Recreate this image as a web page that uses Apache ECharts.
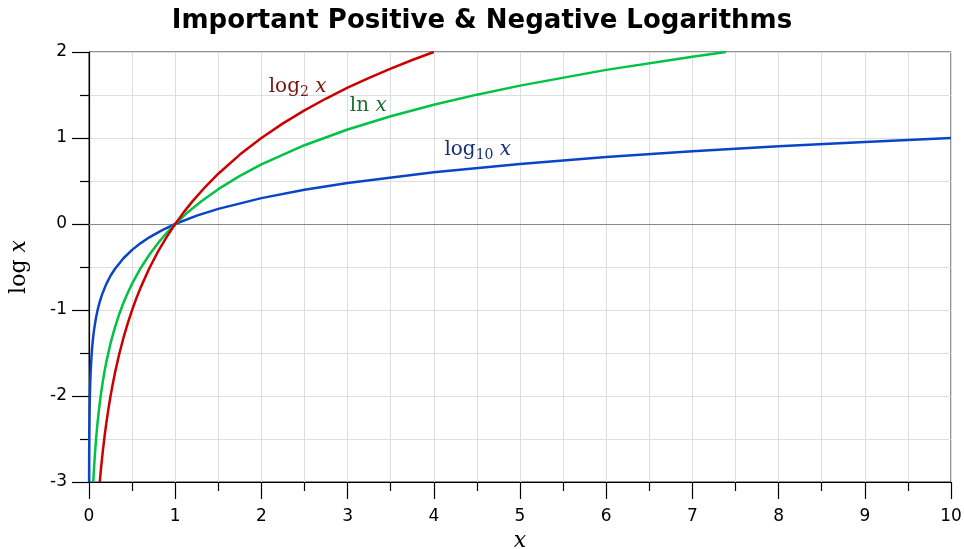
<!DOCTYPE html>
<html><head><meta charset="utf-8">
<script src="https://cdn.jsdelivr.net/npm/echarts@6/dist/echarts.min.js"></script>
<style>html,body{margin:0;padding:0;background:#fff}#c{width:964px;height:549px}</style>
</head><body><div id="c"></div>
<script>
// Data
const log2X = [0.125,0.14,0.16,0.18,0.2,0.225,0.25,0.275,0.3,0.35,0.4,0.45,0.5,0.55,0.6,0.7,0.8,0.9,1,1.1,1.2,1.35,1.5,1.75,2,2.25,2.5,2.75,3,3.25,3.5,3.75,4];
const log2Y = [-3,-2.837,-2.644,-2.474,-2.322,-2.152,-2,-1.862,-1.737,-1.515,-1.322,-1.152,-1,-0.862,-0.737,-0.515,-0.322,-0.152,0,0.138,0.263,0.433,0.585,0.807,1,1.170,1.322,1.459,1.585,1.700,1.807,1.907,2];
const lnX = [0.0498,0.055,0.06,0.07,0.08,0.09,0.1,0.12,0.14,0.16,0.18,0.2,0.25,0.3,0.35,0.4,0.45,0.5,0.6,0.7,0.8,0.9,1,1.15,1.3,1.5,1.75,2,2.5,3,3.5,4,4.5,5,6,7,7.389];
const lnY = [-3,-2.900,-2.813,-2.659,-2.526,-2.408,-2.303,-2.120,-1.966,-1.833,-1.715,-1.609,-1.386,-1.204,-1.050,-0.916,-0.799,-0.693,-0.511,-0.357,-0.223,-0.105,0,0.140,0.262,0.405,0.560,0.693,0.916,1.099,1.253,1.386,1.504,1.609,1.792,1.946,2];
const log10X = [0.001,0.0015,0.002,0.003,0.005,0.0075,0.01,0.015,0.02,0.03,0.04,0.05,0.06,0.08,0.1,0.12,0.15,0.2,0.25,0.3,0.4,0.5,0.6,0.7,0.85,1,1.25,1.5,2,2.5,3,4,5,6,7,8,9,10];
const log10Y = [-3,-2.824,-2.699,-2.523,-2.301,-2.125,-2,-1.824,-1.699,-1.523,-1.398,-1.301,-1.222,-1.097,-1,-0.921,-0.824,-0.699,-0.602,-0.523,-0.398,-0.301,-0.222,-0.155,-0.071,0,0.097,0.176,0.301,0.398,0.477,0.602,0.699,0.778,0.845,0.903,0.954,1];
const xTicks = [0,1,2,3,4,5,6,7,8,9,10];
const yTicks = [-3,-2,-1,0,1,2];
const curveLabels = [
  {name:'log2', x:2.42, y:1.59},
  {name:'ln', x:3.24, y:1.37},
  {name:'log10', x:4.51, y:0.86}
];

const zip = (a,b)=>a.map((v,i)=>[v,b[i]]);
const serif = '"DejaVu Serif","Liberation Serif",serif';
const sans = '"DejaVu Sans","Liberation Sans",sans-serif';

const chart = echarts.init(document.getElementById('c'));
function lab(key, color, rich){
  const l = curveLabels.find(c=>c.name===key);
  return {
    symbol:'none', silent:true,
    data:[{coord:[l.x,l.y], symbol:'circle', symbolSize:0,
      label:{show:true, position:'inside', color:color, formatter:rich.f, rich:rich.r}}]
  };
}
const opt = {
  animation:false,
  title:{text:'Important Positive & Negative Logarithms', left:'center', top:3,
    textStyle:{fontFamily:sans, fontWeight:'bold', fontSize:26, color:'#000'}},
  grid:{left:89, right:13, top:52, bottom:67, outerBoundsMode:'none', containLabel:false,
    show:true, borderColor:'#222', borderWidth:1, backgroundColor:'transparent'},
  xAxis:{type:'value', min:0, max:10, interval:1,
    name:'x', nameLocation:'middle', nameGap:48,
    nameTextStyle:{fontFamily:serif, fontStyle:'italic', fontSize:22, color:'#000'},
    axisLine:{show:true, onZero:false, lineStyle:{color:'#000', width:1.2}},
    axisTick:{show:true, inside:false, length:17, lineStyle:{color:'#000', width:1.2}},
    minorTick:{show:true, splitNumber:2, length:9, lineStyle:{color:'#000', width:1.2}},
    splitLine:{show:true, lineStyle:{color:'#dedede', width:1}},
    minorSplitLine:{show:true, lineStyle:{color:'#dedede', width:1}},
    axisLabel:{margin:26, fontFamily:sans, fontSize:17, color:'#000',
      formatter:v=>xTicks.includes(v)?String(v):''}
  },
  yAxis:{type:'value', min:-3, max:2, interval:1,
    name:'{a|log }{b|x}', nameLocation:'middle', nameGap:59, nameRotate:90,
    nameTextStyle:{color:'#000', rich:{a:{fontFamily:serif, fontSize:22, color:'#000'}, b:{fontFamily:serif, fontStyle:'italic', fontSize:22, color:'#000'}}},
    axisLine:{show:true, lineStyle:{color:'#000', width:1.2}},
    axisTick:{show:true, inside:false, length:17, lineStyle:{color:'#000', width:1.2}},
    minorTick:{show:true, splitNumber:2, length:9, lineStyle:{color:'#000', width:1.2}},
    splitLine:{show:true, lineStyle:{color:'#dedede', width:1}},
    minorSplitLine:{show:true, lineStyle:{color:'#dedede', width:1}},
    axisLabel:{margin:22, fontFamily:sans, fontSize:17, color:'#000',
      formatter:v=>yTicks.includes(v)?String(v):''}
  },
  series:[
    {type:'line', data:zip(log10X,log10Y), showSymbol:false, smooth:false,
      lineStyle:{color:'#0a45c8', width:2.5}, z:3,
      markLine:{silent:true, symbol:['none','none'], label:{show:false},
        lineStyle:{color:'#888', width:1.2, type:'solid'}, data:[{yAxis:0}], z:1},
      markPoint: lab('log10','#16307e',{f:'{a|log}{s|10}{b| x}', r:{
        a:{fontFamily:serif,fontSize:20,color:'#16307e'},
        s:{fontFamily:serif,fontSize:14,color:'#16307e',verticalAlign:'bottom',padding:[10,0,0,0]},
        b:{fontFamily:serif,fontStyle:'italic',fontSize:20,color:'#16307e'}}})
    },
    {type:'line', data:zip(lnX,lnY), showSymbol:false, smooth:false,
      lineStyle:{color:'#00c244', width:2.5}, z:4,
      markPoint: lab('ln','#1c6e30',{f:'{a|ln }{b|x}', r:{
        a:{fontFamily:serif,fontSize:20,color:'#1c6e30'},
        b:{fontFamily:serif,fontStyle:'italic',fontSize:20,color:'#1c6e30'}}})
    },
    {type:'line', data:zip(log2X,log2Y), showSymbol:false, smooth:false,
      lineStyle:{color:'#cc0000', width:2.5}, z:5,
      markPoint: lab('log2','#7a1515',{f:'{a|log}{s|2}{b| x}', r:{
        a:{fontFamily:serif,fontSize:20,color:'#7a1515'},
        s:{fontFamily:serif,fontSize:14,color:'#7a1515',verticalAlign:'bottom',padding:[10,0,0,0]},
        b:{fontFamily:serif,fontStyle:'italic',fontSize:20,color:'#7a1515'}}})
    }
  ]
};
chart.setOption(opt);
</script></body></html>
